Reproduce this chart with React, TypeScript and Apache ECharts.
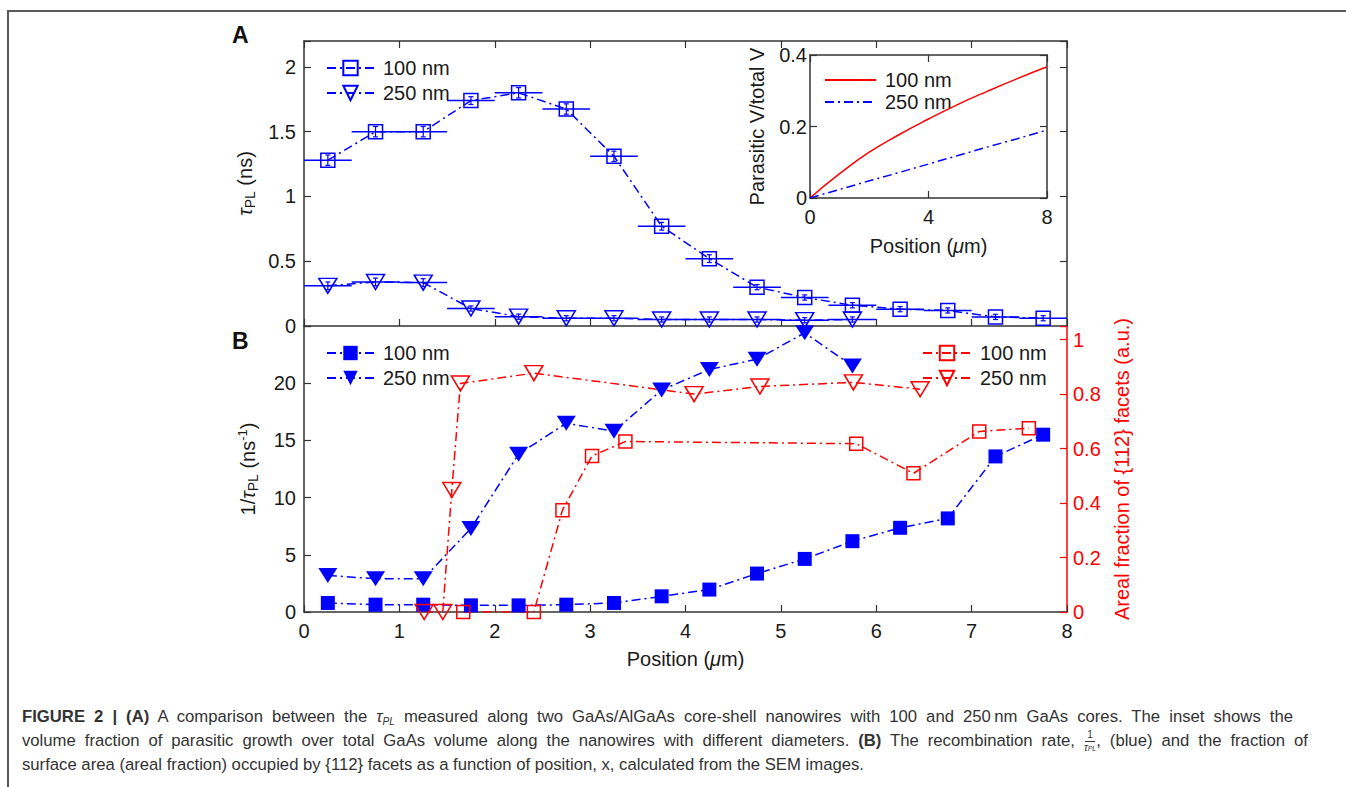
import React, { useEffect, useRef } from 'react';
import * as echarts from 'echarts';

// ---------- data ----------
const pos100 = [0.25, 0.75, 1.25, 1.75, 2.25, 2.75, 3.25, 3.75, 4.25, 4.75, 5.25, 5.75, 6.25, 6.75, 7.25, 7.75];
const pos250 = [0.25, 0.75, 1.25, 1.75, 2.25, 2.75, 3.25, 3.75, 4.25, 4.75, 5.25, 5.75];
const tau100 = [1.28, 1.5, 1.5, 1.74, 1.8, 1.675, 1.31, 0.77, 0.52, 0.3, 0.22, 0.16, 0.13, 0.12, 0.07, 0.06];
const tau100Err = [0.04, 0.04, 0.04, 0.03, 0.04, 0.04, 0.04, 0.03, 0.03, 0.02, 0.02, 0.02, 0.02, 0.02, 0.02, 0.02];
const tau250 = [0.31, 0.34, 0.335, 0.135, 0.072, 0.06, 0.06, 0.05, 0.05, 0.05, 0.045, 0.05];
const tau250Err = [0.03, 0.03, 0.03, 0.02, 0.02, 0.02, 0.02, 0.02, 0.02, 0.02, 0.02, 0.02];
const binHalf100 = [0.25, 0.25, 0.25, 0.25, 0.25, 0.25, 0.25, 0.25, 0.25, 0.25, 0.25, 0.25, 0.25, 0.25, 0.25, 0.25];
const binHalf250 = [0.25, 0.25, 0.25, 0.25, 0.25, 0.25, 0.25, 0.25, 0.25, 0.25, 0.25, 0.25];

const rate100 = [0.79, 0.64, 0.64, 0.58, 0.58, 0.64, 0.79, 1.37, 1.96, 3.36, 4.64, 6.19, 7.36, 8.18, 13.6, 15.5];
const rate250 = [3.2, 2.9, 2.9, 7.3, 13.8, 16.5, 15.8, 19.4, 21.2, 22.1, 24.4, 21.5];

const facetPos100 = [1.67, 2.41, 2.71, 3.02, 3.37, 5.79, 6.39, 7.08, 7.6];
const facet100 = [0, 0, 0.374, 0.573, 0.626, 0.618, 0.509, 0.663, 0.675];
const facetPos250 = [1.26, 1.455, 1.55, 1.64, 2.41, 4.09, 4.78, 5.76, 6.46];
const facet250 = [0, 0, 0.448, 0.839, 0.877, 0.8, 0.828, 0.843, 0.818];

const insetPos = [0, 1, 2, 3, 4, 5, 6, 7, 8];
const parasitic100 = [0, 0.068, 0.128, 0.177, 0.221, 0.262, 0.299, 0.334, 0.367];
const parasitic250 = [0, 0.024, 0.048, 0.071, 0.095, 0.119, 0.143, 0.166, 0.19];

const tauTicks = [0, 0.5, 1, 1.5, 2];
const rateTicks = [0, 5, 10, 15, 20];
const facetTicks = [0, 0.2, 0.4, 0.6, 0.8, 1];
const insetYTicks = [0, 0.2, 0.4];
const positionTicks = [0, 1, 2, 3, 4, 5, 6, 7, 8];
const insetXTicks = [0, 4, 8];

// ---------- styles ----------
const FONT = '"Liberation Sans", Arial, Helvetica, sans-serif';
const BLUE = '#0000ff';
const RED = '#ff0000';
const AXIS = '#333333';
const TXT = '#1a1a1a';
const DASHDOT = [9, 4, 2, 4];

const pick = (ticks: number[]) => (v: number) =>
  ticks.some((t) => Math.abs(t - v) < 1e-6) ? String(+v.toFixed(2)) : '';

const errRender = (color: string) => (params: any, api: any) => {
  const x = api.value(0);
  const y = api.value(1);
  const xe = api.value(2);
  const ye = api.value(3);
  const l = api.coord([x - xe, y]);
  const r = api.coord([x + xe, y]);
  const t = api.coord([x, y + ye]);
  const b = api.coord([x, y - ye]);
  const cap = 2.5;
  const st = { stroke: color, lineWidth: 1.5 };
  const thin = { stroke: color, lineWidth: 1.2 };
  return {
    type: 'group',
    children: [
      { type: 'line', shape: { x1: l[0], y1: l[1], x2: r[0], y2: r[1] }, style: st },
      { type: 'line', shape: { x1: t[0], y1: t[1], x2: b[0], y2: b[1] }, style: thin },
      { type: 'line', shape: { x1: t[0] - cap, y1: t[1], x2: t[0] + cap, y2: t[1] }, style: thin },
      { type: 'line', shape: { x1: b[0] - cap, y1: b[1], x2: b[0] + cap, y2: b[1] }, style: thin },
    ],
  };
};

const axisLine = (color = AXIS) => ({ show: true, onZero: false, lineStyle: { color, width: 1.5 } });
const axisTick = (color = AXIS) => ({ show: true, inside: true, length: 7, lineStyle: { color, width: 1.2 } });
const labelStyle = { color: TXT, fontSize: 20, fontFamily: FONT };

const richName = {
  n: { fontSize: 20, fontFamily: FONT, color: TXT, lineHeight: 24, verticalAlign: 'middle' },
  t: { fontSize: 20, fontFamily: FONT, color: TXT, fontStyle: 'italic', lineHeight: 24, verticalAlign: 'middle' },
  s: { fontSize: 14, fontFamily: FONT, color: TXT, lineHeight: 12, verticalAlign: 'bottom' },
  p: { fontSize: 13, fontFamily: FONT, color: TXT, lineHeight: 12, verticalAlign: 'top' },
};

const legendCommon = {
  orient: 'vertical',
  padding: 0,
  itemHeight: 18,
  itemGap: 5,
  selectedMode: false,
  formatter: (n: string) => n.slice(2),
  textStyle: { fontSize: 20, color: TXT, fontFamily: FONT, padding: [0, 0, 0, 4] },
};

function buildOption() {
  const errA100 = pos100.map((x, i) => [x, tau100[i], binHalf100[i], tau100Err[i]]);
  const errA250 = pos250.map((x, i) => [x, tau250[i], binHalf250[i], tau250Err[i]]);
  return {
    animation: false,
    backgroundColor: 'transparent',
    textStyle: { fontFamily: FONT },
    grid: [
      { left: 304, top: 41, width: 763, height: 285 },
      { left: 304, top: 326, width: 763, height: 286 },
      { left: 810, top: 55, width: 237, height: 143, show: true, backgroundColor: '#ffffff', borderWidth: 0 },
    ],
    xAxis: [
      // 0: panel A bottom
      { gridIndex: 0, type: 'value', min: 0, max: 8, interval: 1, position: 'bottom', axisLine: axisLine(), axisTick: axisTick(), axisLabel: { show: false }, splitLine: { show: false } },
      // 1: panel A top
      { gridIndex: 0, type: 'value', min: 0, max: 8, interval: 1, position: 'top', axisLine: axisLine(), axisTick: axisTick(), axisLabel: { show: false }, splitLine: { show: false } },
      // 2: panel B bottom
      {
        gridIndex: 1, type: 'value', min: 0, max: 8, interval: 1, position: 'bottom',
        axisLine: axisLine(), axisTick: axisTick(), splitLine: { show: false },
        axisLabel: { ...labelStyle, margin: 9, formatter: pick(positionTicks) },
        name: '{n|Position (}{t|μ}{n|m)}', nameLocation: 'middle', nameGap: 35,
        nameTextStyle: { rich: richName },
      },
      // 3: inset bottom
      {
        gridIndex: 2, type: 'value', min: 0, max: 8, interval: 4, position: 'bottom',
        axisLine: axisLine(), axisTick: axisTick(), splitLine: { show: false },
        axisLabel: { ...labelStyle, margin: 9, formatter: pick(insetXTicks) },
        name: '{n|Position (}{t|μ}{n|m)}', nameLocation: 'middle', nameGap: 36,
        nameTextStyle: { rich: richName },
      },
      // 4: inset top
      { gridIndex: 2, type: 'value', min: 0, max: 8, interval: 4, position: 'top', axisLine: axisLine(), axisTick: axisTick(), axisLabel: { show: false }, splitLine: { show: false } },
    ],
    yAxis: [
      // 0: panel A left
      {
        gridIndex: 0, type: 'value', min: 0, max: 2.2, interval: 0.5, position: 'left',
        axisLine: axisLine(), axisTick: axisTick(), splitLine: { show: false },
        axisLabel: { ...labelStyle, margin: 8, formatter: pick(tauTicks) },
        name: '{t|τ}{s|PL}{n| (ns)}', nameLocation: 'middle', nameRotate: 90, nameGap: 45,
        nameTextStyle: { rich: richName },
      },
      // 1: panel A right
      { gridIndex: 0, type: 'value', min: 0, max: 2.2, interval: 0.5, position: 'right', axisLine: axisLine(), axisTick: axisTick(), axisLabel: { show: false }, splitLine: { show: false } },
      // 2: panel B left
      {
        gridIndex: 1, type: 'value', min: 0, max: 25, interval: 5, position: 'left',
        axisLine: axisLine(), axisTick: axisTick(), splitLine: { show: false },
        axisLabel: { ...labelStyle, margin: 8, formatter: pick(rateTicks) },
        name: '{n|1/}{t|τ}{s|PL}{n| (ns}{p|-1}{n|)}', nameLocation: 'middle', nameRotate: 90, nameGap: 44,
        nameTextStyle: { rich: richName },
      },
      // 3: panel B right (red)
      {
        gridIndex: 1, type: 'value', min: 0, max: 1.05, interval: 0.2, position: 'right',
        axisLine: axisLine(RED), axisTick: axisTick(RED), splitLine: { show: false },
        axisLabel: { ...labelStyle, color: RED, margin: 6, formatter: pick(facetTicks) },
        name: 'Areal fraction of {112} facets (a.u.)', nameLocation: 'middle', nameRotate: 90, nameGap: 42,
        nameTextStyle: { fontSize: 20, fontFamily: FONT, color: RED },
      },
      // 4: inset left
      {
        gridIndex: 2, type: 'value', min: 0, max: 0.4, interval: 0.2, position: 'left',
        axisLine: axisLine(), axisTick: axisTick(), splitLine: { show: false },
        axisLabel: { ...labelStyle, margin: 3, formatter: pick(insetYTicks) },
        name: 'Parasitic V/total V', nameLocation: 'middle', nameRotate: 90, nameGap: 43,
        nameTextStyle: { fontSize: 20, fontFamily: FONT, color: TXT },
      },
      // 5: inset right
      { gridIndex: 2, type: 'value', min: 0, max: 0.4, interval: 0.2, position: 'right', axisLine: axisLine(), axisTick: axisTick(), axisLabel: { show: false }, splitLine: { show: false } },
    ],
    legend: [
      { ...legendCommon, data: ['A 100 nm', 'A 250 nm'], left: 326, top: 58, itemWidth: 47 },
      { ...legendCommon, data: ['B 100 nm', 'B 250 nm'], left: 326, top: 343, itemWidth: 47 },
      { ...legendCommon, data: ['C 100 nm', 'C 250 nm'], left: 922, top: 343, itemWidth: 48 },
      { ...legendCommon, data: ['I 100 nm', 'I 250 nm'], left: 824, top: 70, itemWidth: 51, itemGap: 2, itemStyle: { opacity: 0 } },
    ],
    graphic: [
      { type: 'text', left: 232, top: 23, style: { text: 'A', font: 'bold 23px "Liberation Sans", Arial, sans-serif', fill: '#111' } },
      { type: 'text', left: 232, top: 329, style: { text: 'B', font: 'bold 23px "Liberation Sans", Arial, sans-serif', fill: '#111' } },
    ],
    series: [
      // ----- panel A -----
      { type: 'custom', name: 'errA100', xAxisIndex: 0, yAxisIndex: 0, renderItem: errRender(BLUE), data: errA100, silent: true, z: 2 },
      { type: 'custom', name: 'errA250', xAxisIndex: 0, yAxisIndex: 0, renderItem: errRender(BLUE), data: errA250, silent: true, z: 2 },
      {
        type: 'line', name: 'A 100 nm', xAxisIndex: 0, yAxisIndex: 0,
        data: pos100.map((x, i) => [x, tau100[i]]),
        symbol: 'rect', symbolSize: 14, z: 3,
        itemStyle: { color: 'rgba(255,255,255,0)', borderColor: BLUE, borderWidth: 1.5 },
        lineStyle: { color: BLUE, width: 1.5, type: DASHDOT },
      },
      {
        type: 'line', name: 'A 250 nm', xAxisIndex: 0, yAxisIndex: 0,
        data: pos250.map((x, i) => [x, tau250[i]]),
        symbol: 'triangle', symbolRotate: 180, symbolSize: [18, 15], z: 3,
        itemStyle: { color: 'rgba(255,255,255,0)', borderColor: BLUE, borderWidth: 1.5 },
        lineStyle: { color: BLUE, width: 1.5, type: DASHDOT },
      },
      // ----- panel B, blue (left axis) -----
      {
        type: 'line', name: 'B 100 nm', xAxisIndex: 2, yAxisIndex: 2,
        data: pos100.map((x, i) => [x, rate100[i]]),
        symbol: 'rect', symbolSize: 14, z: 3,
        itemStyle: { color: BLUE },
        lineStyle: { color: BLUE, width: 1.5, type: DASHDOT },
      },
      {
        type: 'line', name: 'B 250 nm', xAxisIndex: 2, yAxisIndex: 2,
        data: pos250.map((x, i) => [x, rate250[i]]),
        symbol: 'triangle', symbolRotate: 180, symbolSize: [19, 15], z: 3,
        itemStyle: { color: BLUE },
        lineStyle: { color: BLUE, width: 1.5, type: DASHDOT },
      },
      // ----- panel B, red (right axis) -----
      {
        type: 'line', name: 'C 100 nm', xAxisIndex: 2, yAxisIndex: 3,
        data: facetPos100.map((x, i) => [x, facet100[i]]),
        symbol: 'rect', symbolSize: 13, z: 3,
        itemStyle: { color: 'rgba(255,255,255,0)', borderColor: RED, borderWidth: 1.5 },
        lineStyle: { color: RED, width: 1.5, type: DASHDOT },
      },
      {
        type: 'line', name: 'C 250 nm', xAxisIndex: 2, yAxisIndex: 3,
        data: facetPos250.map((x, i) => [x, facet250[i]]),
        symbol: 'triangle', symbolRotate: 180, symbolSize: [18, 15], z: 3,
        itemStyle: { color: 'rgba(255,255,255,0)', borderColor: RED, borderWidth: 1.5 },
        lineStyle: { color: RED, width: 1.5, type: DASHDOT },
      },
      // ----- inset -----
      {
        type: 'line', name: 'I 100 nm', xAxisIndex: 3, yAxisIndex: 4,
        data: insetPos.map((x, i) => [x, parasitic100[i]]),
        symbol: 'none', smooth: true, z: 5,
        itemStyle: { color: RED },
        lineStyle: { color: RED, width: 1.5 },
      },
      {
        type: 'line', name: 'I 250 nm', xAxisIndex: 3, yAxisIndex: 4,
        data: insetPos.map((x, i) => [x, parasitic250[i]]),
        symbol: 'none', z: 5,
        itemStyle: { color: BLUE },
        lineStyle: { color: BLUE, width: 1.5, type: DASHDOT },
      },
    ],
  };
}

const capStyle: React.CSSProperties = {
  position: 'absolute',
  left: 22,
  whiteSpace: 'nowrap',
  fontFamily: '"Liberation Sans", Arial, Helvetica, sans-serif',
  fontSize: 16.7,
  lineHeight: '24px',
  color: '#333',
};

const justified: React.CSSProperties = {
  whiteSpace: 'normal',
  textAlign: 'justify',
  textAlignLast: 'justify',
  height: 24,
  overflow: 'visible',
};

const TauPL = () => (
  <span>
    <i>τ</i>
    <span style={{ fontSize: 10, position: 'relative', top: 3, fontStyle: 'italic' }}>PL</span>
  </span>
);

export default function App() {
  const ref = useRef<HTMLDivElement>(null);
  useEffect(() => {
    document.body.style.margin = '0';
    const chart = echarts.init(ref.current as HTMLDivElement, null, { renderer: 'svg' });
    chart.setOption(buildOption() as any);
    return () => chart.dispose();
  }, []);
  return (
    <div style={{ position: 'relative', width: 1346, height: 787, background: '#fff', overflow: 'hidden' }}>
      <div ref={ref} style={{ position: 'absolute', left: 0, top: 0, width: 1346, height: 700 }} />
      <div
        style={{
          position: 'absolute', left: 7, top: 10, width: 1360, height: 800,
          borderLeft: '2px solid #5a5a5a', borderTop: '2px solid #5a5a5a', pointerEvents: 'none',
        }}
      />
      <div style={{ ...capStyle, ...justified, top: 705, width: 1271 }}>
        <b>FIGURE 2 | (A)</b> A comparison between the <TauPL /> measured along two GaAs/AlGaAs core-shell nanowires with 100 and 250{'\u2009'}nm GaAs cores. The inset shows the
      </div>
      <div style={{ ...capStyle, ...justified, top: 729, width: 1286 }}>
        volume fraction of parasitic growth over total GaAs volume along the nanowires with different diameters. <b>(B)</b> The recombination rate,{' '}
        <span style={{ display: 'inline-flex', flexDirection: 'column', alignItems: 'center', verticalAlign: 'middle', fontSize: 10, lineHeight: '10px' }}>
          <span style={{ borderBottom: '1px solid #333', padding: '0 2px 1px' }}>1</span>
          <span style={{ fontStyle: 'italic', paddingTop: 1 }}>τ<span style={{ fontSize: 7 }}>PL</span></span>
        </span>
        , (blue) and the fraction of
      </div>
      <div style={{ ...capStyle, top: 753 }}>
        surface area (areal fraction) occupied by {'{'}112{'}'} facets as a function of position, x, calculated from the SEM images.
      </div>
    </div>
  );
}
